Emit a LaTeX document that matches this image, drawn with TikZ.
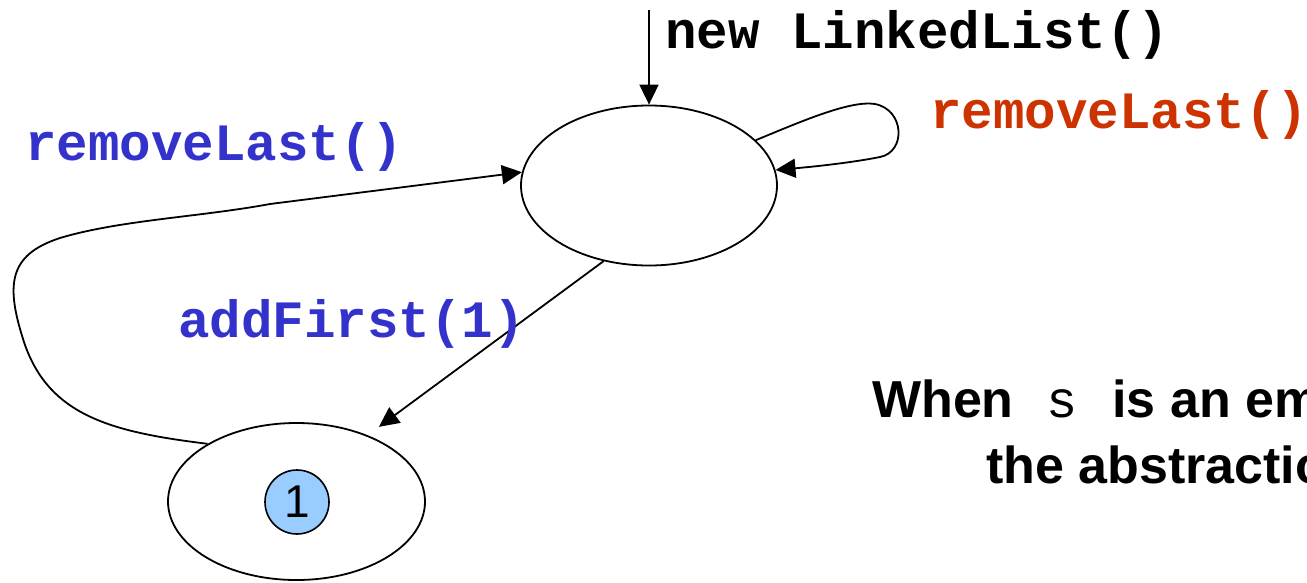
\documentclass[tikz,border=0pt]{standalone}
\usepackage{fontspec}
\setmainfont{Liberation Sans}
\newfontfamily\codefont{Liberation Mono}
\usetikzlibrary{arrows.meta,shapes.geometric}

\definecolor{callblue}{HTML}{3333CC}
\definecolor{callred}{HTML}{CC3300}
\definecolor{elemfill}{HTML}{99CCFF}

\tikzset{
  statebox/.style={draw, ellipse, line width=1.8pt, inner sep=0pt},
  elem/.style={draw, circle, fill=elemfill, line width=1.6pt, inner sep=0pt,
               minimum size=64pt, font=\fontsize{46}{50}\selectfont},
  trans/.style={line width=1.8pt, -{Triangle[length=20pt,width=19pt]}},
  code/.style={inner sep=0pt, anchor=base west,
               font=\codefont\bfseries\fontsize{52.5}{60}\selectfont},
  note/.style={inner sep=0pt, anchor=base west,
               font=\bfseries\fontsize{52}{60}\selectfont}
}

\begin{document}
\begin{tikzpicture}[x=1pt, y=-1pt]
  \useasboundingbox (0,0) rectangle (1307,582);
  \clip (0,0) rectangle (1307,582);

  % states
  \node[statebox, minimum width=256pt, minimum height=160pt] (empty) at (649,185.5) {};
  \node[statebox, minimum width=257pt, minimum height=157pt] (single) at (296.5,501.5) {};
  \node[elem] (one) at (297,502) {1};

  % initial transition
  \coordinate (init) at (649,10);
  \draw[trans] (init) -- (empty.north);

  % removeLast() on the empty list
  \draw[trans] (empty.23) .. controls (800,122) and (850,100) .. (875,104)
                .. controls (905,110) and (906,152) .. (880,157)
                .. controls (850,163) and (810,167) .. (empty.7);

  % addFirst(1)
  \draw[trans, shorten >=14pt] (empty.239) -- (single.43);

  % removeLast() back to the empty list
  \draw[trans] (single.147) .. controls (110,432) and (50,415) .. (25,345)
                .. controls (5,285) and (8,255) .. (60,238)
                .. controls (120,220) and (200,217) .. (270,204)
                -- (empty.174);

  % labels
  \node[code] (lblNew) at (665,48) {new LinkedList()};
  \node[code, text=callred] (lblLoop) at (930,128) {removeLast()};
  \node[code, text=callblue] (lblBack) at (25,160) {removeLast()};
  \node[code, text=callblue] (lblAdd) at (178,337) {addFirst(1)};

  % explanatory note, running off the right edge
  \node[note] (note1) at (872,417) {When\hspace{33pt}{\codefont\mdseries s}\hspace{34.5pt}is an em};
  \node[note] (note2) at (986,483) {the abstractio};
\end{tikzpicture}
\end{document}
